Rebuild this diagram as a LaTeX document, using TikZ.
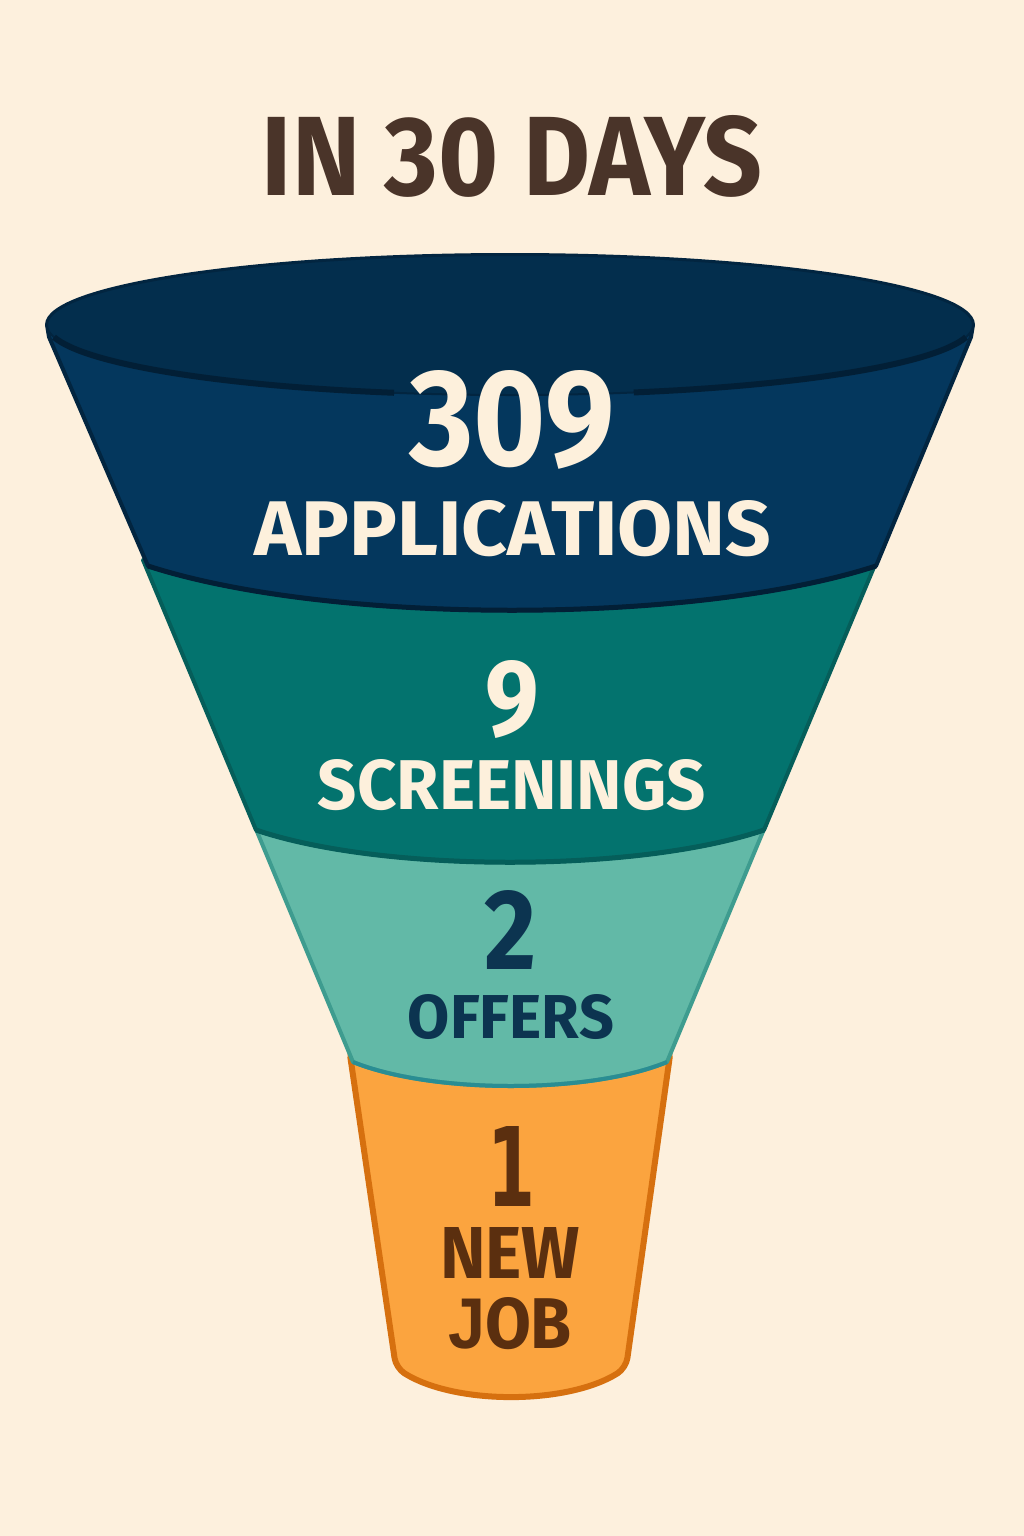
\documentclass[tikz,border=0pt]{standalone}
\usepackage{fontspec}
\setmainfont{Fira Sans}
\newfontfamily\djv{DejaVu Sans}
\newfontfamily\libs{Liberation Sans}
\usepackage{graphicx}
\definecolor{bgc}{HTML}{FDF0DD}
\definecolor{titlec}{HTML}{4A3429}
\definecolor{navyfront}{HTML}{04375D}
\definecolor{navytop}{HTML}{032E4D}
\definecolor{navyedge}{HTML}{022540}
\definecolor{navyline}{HTML}{021F36}
\definecolor{tealf}{HTML}{03736E}
\definecolor{teale}{HTML}{055E5A}
\definecolor{ltealf}{HTML}{62B9A7}
\definecolor{lteale}{HTML}{3E9C8F}
\definecolor{ltealline}{HTML}{2A8D93}
\definecolor{orangef}{HTML}{FBA43F}
\definecolor{orangee}{HTML}{D6700F}
\definecolor{creamtxt}{HTML}{FDF0DC}
\definecolor{navytxt}{HTML}{0C3450}
\definecolor{browntxt}{HTML}{5B2F0F}
\begin{document}
\begin{tikzpicture}[x=1pt,y=1pt,
  txt/.style={inner sep=0pt, anchor=base, font=\bfseries}]
\fill[bgc] (0,0) rectangle (1024,-1536);
\useasboundingbox (0,0) rectangle (1024,-1536);

% orange cup (bottom)
\path[fill=orangef, draw=orangee, line width=6pt, rounded corners=10pt]
  (349,-1048) -- (396,-1368) .. controls (455,-1405) and (567,-1405) .. (626,-1368) -- (671,-1048) -- cycle;

% light teal segment
\path[fill=ltealf, draw=lteale, line width=4pt, line join=round]
  (253,-822) -- (353,-1062) .. controls (432,-1094) and (590,-1094) .. (667,-1062) -- (767,-822) -- cycle;
\draw[ltealline, line width=4pt] (353,-1062) .. controls (432,-1094) and (590,-1094) .. (667,-1062);

% teal segment
\path[fill=tealf, draw=teale, line width=4pt, line join=round]
  (143,-560) -- (256,-830) .. controls (383,-873) and (637,-873) .. (764,-830) -- (877,-560) -- cycle;
\draw[teale, line width=5pt] (256,-830) .. controls (383,-873) and (637,-873) .. (764,-830);

% navy segment body
\path[fill=navyfront, draw=navyedge, line width=4pt, line join=round]
  (47,-325) arc[start angle=180, end angle=0, x radius=463, y radius=70]
  -- (971,-337) -- (876,-566) .. controls (694,-625) and (330,-625) .. (148,-566) -- (49,-337) -- cycle;
\draw[navyline, line width=5pt] (876,-566) .. controls (694,-625) and (330,-625) .. (148,-566);
% top face of funnel
\fill[navytop] (510,-325) ellipse[x radius=463, y radius=70];
\draw[navyedge, line width=2pt] (510,-325) ellipse[x radius=463, y radius=70];
% front lip of the opening, interrupted by the number
\draw[navyline, line width=6pt] (510,-325) ++(190:463 and 70) arc[start angle=190, end angle=255.5, x radius=463, y radius=70];
\draw[navyline, line width=6pt] (510,-325) ++(285.5:463 and 70) arc[start angle=285.5, end angle=350, x radius=463, y radius=70];

% texts
\node[txt, text=titlec] (title) at (512,-195) {\resizebox{500pt}{80pt}{IN 30 DAYS}};
\node[txt, text=creamtxt] (n1) at (512,-465) {\resizebox{205pt}{95pt}{309}};
\node[txt, text=creamtxt] (l1) at (513,-555) {\resizebox{517pt}{55pt}{APPLICATIONS}};
\node[txt, text=creamtxt] (n2) at (512,-735) {\resizebox{!}{75pt}{\scalebox{0.88}[1]{9}}};
\node[txt, text=creamtxt] (l2) at (512,-809) {\resizebox{388pt}{50pt}{SCREENINGS}};
\node[txt, text=navytxt] (n3) at (511,-969) {\resizebox{!}{79pt}{\scalebox{0.88}[1]{2}}};
\node[txt, text=navytxt] (l3) at (511,-1038) {\resizebox{206pt}{44pt}{OFFERS}};
\node[txt, text=browntxt] (n4) at (511,-1206) {\resizebox{48pt}{80pt}{\djv\bfseries 1}};
\node[txt, text=browntxt] (l4) at (510,-1278) {\resizebox{140pt}{51pt}{NEW}};
\node[txt, text=browntxt] (l5) at (510,-1348) {\resizebox{124pt}{51pt}{{\libs\bfseries J}OB}};
\end{tikzpicture}
\end{document}
